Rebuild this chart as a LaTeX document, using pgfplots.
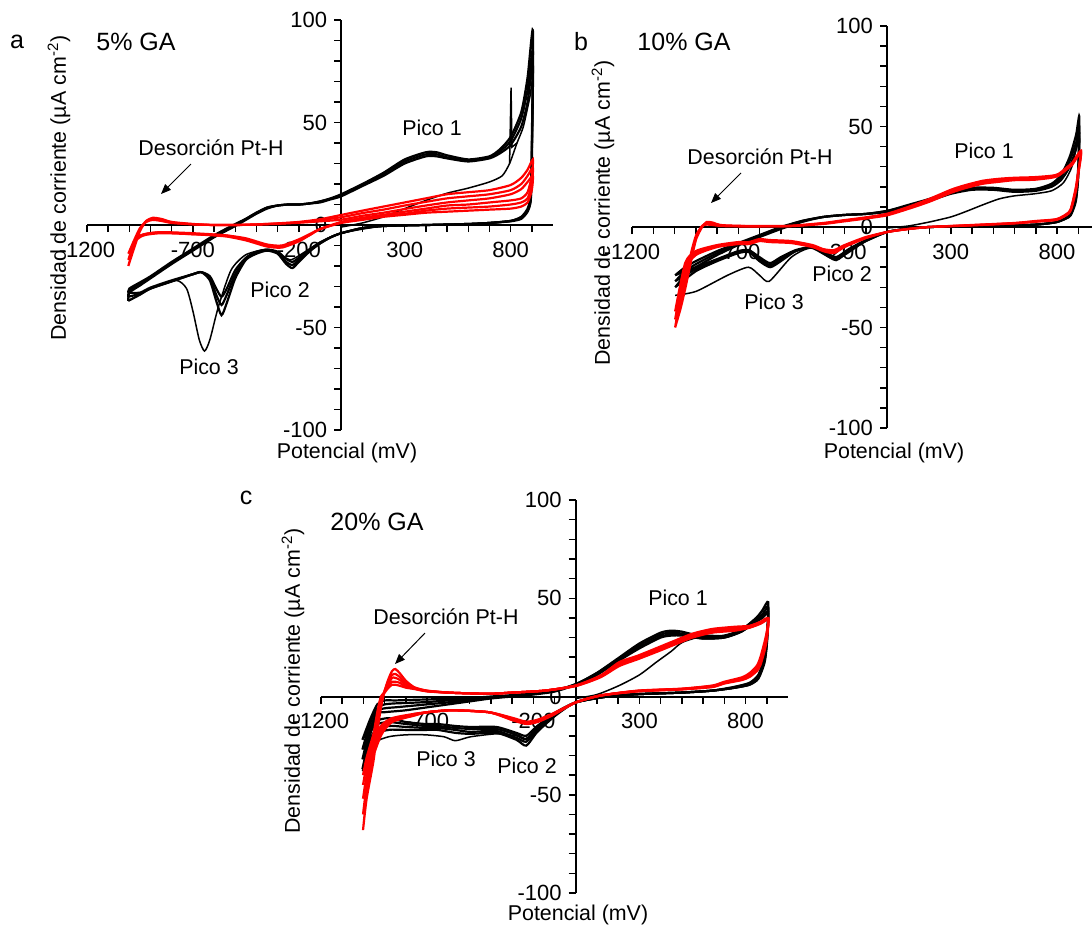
\documentclass[border=0pt]{standalone}
\usepackage{fontspec}
\setmainfont{Liberation Sans}
\usepackage{pgfplots}
\usepackage{pgfplotstable}
\pgfplotsset{compat=1.18}
\usetikzlibrary{arrows.meta}

% ---------- panel a (5% GA) ----------
\pgfplotstableread{
x c1 c2 c3
-1005 -37 -35 -33
-1000 -33 -32 -31
-950 -29.5 -28.5 -28
-900 -26 -25.5 -25
-800 -19 -18.5 -18
-700 -12.5 -12 -11.5
-600 -6 -5.5 -5
-500 -0.5 0 0.5
-450 2.5 3 3
-400 5.5 6 6
-350 8 8.5 8.5
-300 9.5 9.5 9.5
-250 10 10 10
-200 10 10 10
-150 10.5 10.5 10.5
-100 11.5 11.5 11
-50 13 12.8 12.5
0 15 14.5 14
100 20 19.5 19
200 25.5 25 24
300 32 31 30
400 35.5 34.5 33.5
450 35.5 34.5 33.5
500 34 33 32.5
600 32 31.5 31
700 33.5 33 32.5
750 37 36 35
800 43 41 39
850 55 52 48
880 72 66 60
905 95 85 78
900 40 35 30
895 15 13 12
880 8 7 6.5
850 4 3.5 3
800 2 2 1.8
700 1 1 1
600 0.5 0.5 0.5
400 0 0 0
200 -0.5 -0.5 -0.5
100 -1.5 -1.5 -1.5
0 -4 -4 -4
-50 -6 -6 -6
-100 -9 -9 -8.5
-150 -13 -12.5 -12
-200 -18 -17 -16
-230 -21 -19.5 -18
-260 -19 -18 -16.5
-300 -14 -13.5 -13
-350 -12.5 -12 -12
-400 -14 -13.5 -13
-450 -17 -16.5 -16
-500 -26 -24 -22
-540 -38 -34 -31
-565 -44 -39 -35
-590 -37 -34 -31
-620 -27 -26 -25
-660 -23 -23 -23
-700 -24 -24 -24
-800 -27.5 -27.5 -27
-900 -31 -31 -30.5
-950 -34 -33.5 -33
-1005 -37 -35 -33
}\blackA

\pgfplotstableread{
x y
0 -1
100 1
200 4
300 8
400 12
500 15.5
600 18
700 21
760 24
795 30
830 40
860 48
890 62
905 70
900 30
895 12
880 7
850 4
800 2
600 0.5
400 0
200 -0.5
0 -4
-100 -8.5
-200 -15
-240 -17
-280 -15
-350 -12
-450 -14.5
-520 -22
-580 -40
-620 -56
-645 -61.5
-670 -56
-700 -42
-730 -31
-780 -27
-900 -31
-1005 -37
}\firstA

\pgfplotstableread{
x y
795 30
802 67
806 38
830 40
}\spikeA

\pgfplotstableread{
x r1 r2 r3
-1005 -20 -17 -14
-980 -12 -10 -8
-950 -3 -2 -1.5
-920 2 2 1.5
-890 3.5 3 2.5
-850 3 2.5 2
-800 1.5 1.2 1
-700 0.5 0.4 0.3
-600 0 0 0
-500 0 0 0
-400 0.3 0.3 0.2
-300 0.8 0.7 0.6
-200 1.5 1.3 1.1
-100 2.8 2.4 1.8
0 4.9 3.8 2.6
100 7 5.8 4.5
200 9 7.5 6
300 11 9.5 7.8
400 13 11.3 9.5
500 15 13 11
600 16 14 12
700 17 15 13
800 19.5 17 15
850 23 20 17.5
880 27 24 21
905 32 28 24
900 24 20 17
880 16 13 11
850 13 11 9
800 12 10 8
700 11 9 7.5
600 10 8.5 7
500 9.5 8 6.5
400 8 7 6
300 6.5 5.5 5
200 5 4.5 4
100 3.5 3 2.5
0 1.5 1.2 1
-100 -2 -2 -2
-150 -5 -5 -4.5
-200 -8 -7.5 -7
-280 -11 -10.5 -10
-350 -10.5 -10 -9.5
-450 -7.5 -7 -6.5
-550 -5.5 -5 -5
-700 -4.5 -4.5 -4
-850 -4 -3.5 -3.5
-930 -5 -4.5 -4.5
-970 -8 -7 -6.5
-1005 -20 -17 -14
}\redA

% ---------- panel b (10% GA) ----------
\pgfplotstableread{
x c1 c2 c3
-997 -30 -27 -24
-950 -24 -22 -20
-900 -20 -18.5 -17
-800 -14 -13 -12
-700 -9 -8.5 -8
-600 -5 -4.5 -4
-500 -1 -0.5 0
-400 2.5 3 3
-300 5 5 5
-200 6 6 6
-100 6.5 6.5 6.5
0 8 8 7.5
100 11 10.5 10
200 14 13.5 13
300 17.5 17 16.5
400 19.5 19 18.5
500 19.5 19 18.5
600 18.5 18 17.5
700 19 18.5 18
774 21.5 21 20
820 26 25 23.5
860 35 33 30
890 46 42 39
905 55 50 46
900 30 27 25
889 16 14 13
870 8 7.5 7
856 5.5 5 5
800 2.5 2.5 2.5
700 1.2 1.2 1.2
500 0.5 0.5 0.5
200 0 0 0
100 -0.8 -0.8 -0.8
0 -2.5 -2.5 -2.5
-100 -7 -7 -6.5
-180 -12 -11.5 -11
-240 -16.5 -15.5 -15
-300 -13 -12.5 -12
-357 -10 -10 -10
-430 -12 -12 -11.5
-500 -17 -16 -15
-550 -20 -19 -18
-600 -17 -16 -15
-650 -12.5 -12 -11.5
-700 -13 -12.5 -12
-800 -17 -16.5 -16
-900 -22 -21 -20
-997 -30 -27 -24
}\blackB

\pgfplotstableread{
x y
0 -0.5
100 0.5
200 2.5
300 5
364 7.4
450 11
528 14
600 15.5
692 16.5
774 18
830 22
870 30
905 45
900 25
889 14
870 7.5
856 5
800 2.5
700 1.2
500 0.5
200 0
0 -2.5
-100 -7
-240 -16
-357 -10.5
-450 -15
-554 -27
-600 -24
-652 -20
-750 -24
-898 -32
-997 -34
}\firstB

\pgfplotstableread{
x r1 r2 r3
-997 -50 -46 -42
-970 -40 -37 -34
-948 -30 -27 -25
-920 -16 -14 -12
-898 -6 -5 -4
-870 0 0.5 0.5
-849 2.5 1.8 1.2
-820 2.2 1.5 1
-784 1 0.8 0.5
-700 0.6 0.5 0.3
-600 0.5 0.4 0.3
-456 0.6 0.5 0.4
-300 2 1.8 1.5
-210 3.3 3 2.7
-100 4.8 4.5 4.2
0 6.6 6.2 5.8
100 10 9.5 9
200 14 13.3 12.6
300 18.5 17.7 17
364 20.7 20 19.2
450 23 22.3 21.5
528 24 23.3 22.5
600 24.5 24 23.3
692 24.8 24.2 23.5
774 25.5 25 24.5
807 26.4 26 25.5
850 30 29.5 29
872 32 31.5 31
913 38 37.5 37
900 28 27 26
889 20 19 18
870 11 10.5 10
856 7.4 7 6.8
800 4 3.8 3.6
700 3 2.8 2.6
600 2 1.9 1.8
400 1 0.9 0.8
200 0 0 0
100 -1 -1 -1
0 -2.5 -2.5 -2.5
-100 -5.5 -5.5 -5
-200 -10 -9.5 -9
-250 -13 -12 -11.5
-300 -12 -11.5 -11
-350 -10 -9.5 -9
-450 -8 -7.5 -7
-550 -7.5 -7 -6.5
-600 -7 -6.5 -6
-650 -8.5 -8 -7.5
-700 -8.5 -8 -7.5
-800 -10 -9.5 -9
-900 -14 -13 -12
-950 -22 -20 -18
-997 -50 -46 -42
}\redB

% ---------- panel c (20% GA) ----------
\pgfplotstableread{
x c1 c2 c3 c4
-1005 -37 -32 -27 -22
-970 -20 -17 -14 -12
-935 -9 -7.5 -6 -4
-900 -8 -6 -4 -2
-850 -7.5 -5.5 -3.5 -2
-800 -7 -5 -3.3 -1.8
-700 -5.5 -4 -2.8 -1.5
-600 -4 -3 -2 -1.2
-500 -2.5 -2 -1.5 -0.8
-400 -1 -0.7 -0.3 0
-300 0 0.3 0.5 0.7
-200 1 1.3 1.5 1.7
-100 2.5 2.8 3 3
0 6 6.3 6.3 6
100 12 12 11.5 11
200 19.5 19 18.5 18
300 27 26 25 24.5
400 32.5 31.5 30.5 30
450 33.5 32.5 31.5 31
500 33 32 31.5 31
600 30.5 30 29.5 29.5
700 31 30.5 30 30
780 34 33.5 33 33
850 40 39 38.5 38
880 44 42 41 40
907 48 45 43 42
900 30 28 27 26
889 20 19 18 17
860 11 10 9.5 9
819 7 6.5 6 6
750 5 4.5 4.5 4.5
644 3 3 3 3
500 2 2 2 2
293 1.2 1.2 1.2 1.2
150 0 0 0 0
0 -3 -3 -3 -3
-93 -9.5 -9 -8.5 -8
-181 -18 -17 -16 -15
-233 -25 -23 -21.5 -20
-280 -22 -21 -19.5 -18.5
-374 -18.5 -17.5 -16.5 -15.5
-496 -19 -18 -16.5 -15.5
-567 -18.5 -17 -16 -15
-650 -17 -16 -15 -14
-707 -17 -16 -15 -14
-800 -17 -15.5 -14 -13
-882 -17 -15 -13 -11
-950 -20 -18 -15 -13
-1005 -37 -32 -27 -22
}\blackC

\pgfplotstableread{
x y
0 -1
100 1
205 5.6
300 11
380 17.5
450 23
503 27.6
609 31
700 31
780 34
850 40
907 46
900 29
889 19
860 10
819 6.5
750 4.5
644 3
500 2
293 1.2
150 0
0 -3
-93 -9
-181 -16
-233 -22
-280 -20
-374 -19
-496 -20.5
-567 -22.5
-620 -20.5
-707 -19.5
-800 -19.5
-882 -20.5
-950 -24
-1005 -38
}\firstC

\pgfplotstableread{
x r1 r2 r3 r4 r5
-1002 -68 -60 -52 -45 -40
-985 -52 -46 -40 -35 -31
-953 -33 -29 -25 -22 -19
-935 -18 -15 -12 -10 -8
-918 -6 -4 -2.5 -1 0
-900 3 3 2.5 2.5 2
-882 9 8 6.5 5.5 4.5
-865 13 11 9.5 7.5 6
-850 14 11.5 9.5 7.5 6
-830 12 10 8.5 7 5.5
-800 8 7 6 5 4.5
-760 4.7 4.5 4.2 4 3.8
-700 3 2.9 2.8 2.7 2.6
-584 1.9 1.9 1.9 1.9 1.9
-409 1.4 1.4 1.4 1.4 1.4
-300 2 2 2 2 2
-146 3 3 3 3 3
0 5.6 5.6 5.5 5.4 5.3
117 10.7 10.5 10.3 10 9.8
205 17.5 17 16.5 16 15.5
293 20.8 20.5 20 19.5 19
400 25.5 25 24.5 24 23.5
468 28.5 28 27.5 27 26.5
550 32 31.5 31 30.5 30
644 34.4 34 33.5 33 32.5
750 35.5 35 34.5 34 33.5
819 36 35.8 35.5 35.2 35
870 38 37.8 37.5 37.2 37
907 40 39.7 39.4 39.1 38.8
900 33 32 31 30 29
889 27.6 26 25 24 23
870 20 19 18 17 16
854 15.8 15 14 13.5 13
820 12 11.5 11 10.5 10
784 9.8 9.3 9 8.7 8.4
700 7.5 7.2 7 6.8 6.6
644 5.6 5.4 5.2 5 4.8
500 4 3.9 3.8 3.7 3.6
293 3 2.9 2.8 2.7 2.6
117 0.5 0.5 0.5 0.5 0.5
0 -3 -3 -3 -3 -3
-111 -9.7 -9.5 -9.3 -9 -8.8
-180 -13 -12.7 -12.4 -12.1 -11.8
-233 -14 -13.7 -13.4 -13.1 -12.8
-300 -12 -11.7 -11.4 -11.1 -10.8
-409 -8 -8 -8 -8 -8
-584 -7 -7 -7 -7 -7
-700 -8 -8 -8 -8 -8
-760 -9.7 -9.5 -9.3 -9 -8.8
-865 -13 -12.5 -12 -11.5 -11
-918 -20 -18.5 -17 -16 -15
-970 -37 -34 -31 -28 -26
-1002 -68 -60 -52 -45 -40
}\redC

\pgfplotsset{
  cvaxis/.style={
    scale only axis, anchor=north west,
    xmin=-1200, xmax=1000, ymin=-100, ymax=100,
    axis lines=middle, axis line style={-, line width=1pt, black},
    xtick={-1200,-700,-200,300,800},
    xticklabels={-1200,-700,-200,300,800},
    minor xtick={-1100,-1000,-900,-800,-600,-500,-400,-300,-100,100,200,400,500,600,700,900},
    ytick={-100,-50,0,50,100},
    yticklabels={-100,-50,0,50,100},
    minor ytick={-90,-80,-70,-60,-40,-30,-20,-10,10,20,30,40,60,70,80,90},
    tick align=outside, major tick length=3.5pt, minor tick length=3.5pt,
    every tick/.style={black, line width=0.75pt},
    tick label style={font=\fontsize{11}{13}\selectfont, black},
    xticklabel style={yshift=-1.5pt},
    hide obscured x ticks=false, hide obscured y ticks=false,
  },
  bk/.style={black, line width=1.1pt, smooth, tension=0.4, mark=none},
  bkthin/.style={black, line width=0.75pt, smooth, tension=0.4, mark=none},
  rd/.style={red, line width=1.1pt, smooth, tension=0.4, mark=none},
}

\begin{document}
\begin{tikzpicture}[font=\fontsize{10.7}{13}\selectfont]
\useasboundingbox (0,0) rectangle (546pt,-463.5pt);

% panel a
\begin{axis}[cvaxis, width=233pt, height=205pt, at={(43.5pt,-10pt)}]
\addplot[bk] table[x=x,y=c1]{\blackA};
\addplot[bk] table[x=x,y=c2]{\blackA};
\addplot[bk] table[x=x,y=c3]{\blackA};
\addplot[bkthin] table[x=x,y=y]{\firstA};
\addplot[bkthin, sharp plot] table[x=x,y=y]{\spikeA};
\addplot[rd] table[x=x,y=r1]{\redA};
\addplot[rd] table[x=x,y=r2]{\redA};
\addplot[rd] table[x=x,y=r3]{\redA};
\end{axis}

% panel b
\begin{axis}[cvaxis, width=233.75pt, height=201pt, at={(316pt,-13pt)}]
\addplot[bk] table[x=x,y=c1]{\blackB};
\addplot[bk] table[x=x,y=c2]{\blackB};
\addplot[bk] table[x=x,y=c3]{\blackB};
\addplot[bkthin] table[x=x,y=y]{\firstB};
\addplot[rd] table[x=x,y=r1]{\redB};
\addplot[rd] table[x=x,y=r2]{\redB};
\addplot[rd] table[x=x,y=r3]{\redB};
\end{axis}

% panel c
\begin{axis}[cvaxis, width=233.5pt, height=196.5pt, at={(160.5pt,-250pt)}]
\addplot[bk] table[x=x,y=c1]{\blackC};
\addplot[bk] table[x=x,y=c2]{\blackC};
\addplot[bk] table[x=x,y=c3]{\blackC};
\addplot[bk] table[x=x,y=c4]{\blackC};
\addplot[bkthin] table[x=x,y=y]{\firstC};
\addplot[rd] table[x=x,y=r1]{\redC};
\addplot[rd] table[x=x,y=r2]{\redC};
\addplot[rd] table[x=x,y=r3]{\redC};
\addplot[rd] table[x=x,y=r4]{\redC};
\addplot[rd] table[x=x,y=r5]{\redC};
\end{axis}

\begin{scope}[x=0.5pt, y=-0.5pt]
% panel a labels
\node[font=\fontsize{12.5}{15}\selectfont] at (17,42) {a};
\node[font=\fontsize{12.5}{15}\selectfont] at (136,42) {5\% GA};
\node at (432,128) {Pico 1};
\node at (211,148) {Desorción Pt-H};
\draw[line width=0.5pt, -{Triangle[length=5pt,width=4pt]}] (191,164) -- (161,194);
\node at (280,290) {Pico 2};
\node at (209,367) {Pico 3};
\node[rotate=90] at (59,188) {Densidad de corriente (µA cm\textsuperscript{-2})};
\node at (347,453) {Potencial (mV)};
% panel b labels
\node[font=\fontsize{12.5}{15}\selectfont] at (581,42) {b};
\node[font=\fontsize{12.5}{15}\selectfont] at (684,42) {10\% GA};
\node at (984,151) {Pico 1};
\node at (760,157) {Desorción Pt-H};
\draw[line width=0.5pt, -{Triangle[length=5pt,width=4pt]}] (741,173) -- (711,203);
\node at (842,274) {Pico 2};
\node at (774,302) {Pico 3};
\node[rotate=90] at (603,213) {Densidad de corriente (µA cm\textsuperscript{-2})};
\node at (894,453) {Potencial (mV)};
% panel c labels
\node[font=\fontsize{12.5}{15}\selectfont] at (246,498) {c};
\node[font=\fontsize{12.5}{15}\selectfont] at (377,522) {20\% GA};
\node at (678,598) {Pico 1};
\node at (446,617) {Desorción Pt-H};
\draw[line width=0.5pt, -{Triangle[length=5pt,width=4pt]}] (425,633) -- (395,664);
\node at (446,759) {Pico 3};
\node at (527,766) {Pico 2};
\node[rotate=90] at (293,681) {Densidad de corriente (µA cm\textsuperscript{-2})};
\node at (578,915) {Potencial (mV)};
\end{scope}
\end{tikzpicture}
\end{document}
